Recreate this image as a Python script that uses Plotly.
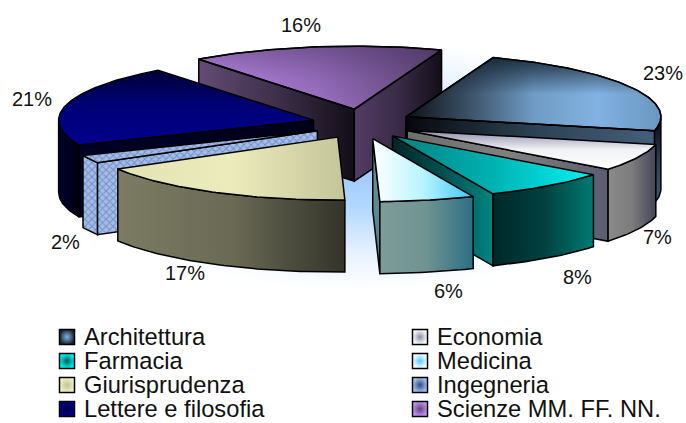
import math
import plotly.graph_objects as go

CATEGORIES = ["Architettura", "Economia", "Farmacia", "Medicina",
              "Giurisprudenza", "Ingegneria", "Lettere e filosofia", "Scienze MM. FF. NN."]
SHARES = [23, 7, 8, 6, 17, 2, 21, 16]

# geometry of the projected 3D pie (pixels on a 686x423 canvas)
CX, CY = 362, 124
RX, RY = 255, 63
EX, EY = 50, 15
DEPTH = 72
START = 20
DRAW_ORDER = [7, 6, 0, 5, 1, 4, 2, 3]

H, V = "horizontal", "vertical"
STYLES = [
    dict(top=(H, ["#0b1014", "#3c5267", "#6f9bc4", "#82b2e2", "#6a96c0"]),
         over=(V, ["rgba(20,35,50,0)", "rgba(20,35,50,0)", "rgba(20,35,50,0.9)"]),
         start=(H, ["#000", "#000"]), end=(H, ["#04080b", "#2c4052", "#445f7a"]),
         wall=(V, ["#3f5a75", "#2c4052", "#05080c"])),
    dict(top=(V, ["#ffffff", "#f2f2f6", "#8c8cab"]),
         start=(H, ["#000", "#000"]), end=(H, ["#6e6e6e", "#808080", "#5c5c72"]),
         wall=(H, ["#8a8a8a", "#7c7c7c", "#45455a"])),
    dict(top=(H, ["#007f7f", "#00b2b2", "#00f2f2"]),
         start=(H, ["#000", "#000"]), end=(H, ["#002626", "#00504f", "#008480"]),
         wall=(H, ["#002828", "#00403f", "#007a72"])),
    dict(top=(H, ["#ffffff", "#b8f4ff", "#3cc6ff"]),
         start=(H, ["#000", "#000"]), end=(V, ["#4f7f8a", "#6a9498"]),
         wall=(H, ["#7d9c9a", "#6f9391", "#2c6f84"])),
    dict(top=(H, ["#e2e2b2", "#ecebbb", "#c4c49a"]),
         start=(H, ["#000", "#000"]), end=(H, ["#000", "#000"]),
         wall=(H, ["#7c7c64", "#6a6a55", "#33332a"])),
    dict(top=(H, ["#8eaade", "#8eaade"]),
         pattern=dict(shape="x", bgcolor="#a4bce8", fgcolor="#3f5f9a", size=5, solidity=0.35),
         start=(H, ["#000", "#000"]), end=(H, ["#000", "#000"]),
         wall=(H, ["#000", "#000"])),
    dict(top=(V, ["#00008a", "#00007a", "#000038"]),
         start=(H, ["#000028", "#000018"]), end=(H, ["#000", "#000"]),
         wall=(H, ["#000030", "#000010"])),
    dict(top=(H, ["#c692f4", "#9c72c4", "#5e4676"]),
         over=(V, ["rgba(60,40,80,0)", "rgba(60,40,80,0.15)", "rgba(60,40,80,0.45)"]),
         start=(H, ["#624c74", "#3e2f4a", "#120e18"]), end=(H, ["#523c64", "#3a2b48", "#120e18"]),
         wall=(H, ["#000", "#000"])),
]

LABEL_XY = [(663, 73), (657, 237), (577, 277), (448, 291),
            (185, 273), (65, 242), (32, 99), (301, 25)]
LEGEND_COLORS = [("#1c2a38", "#82b2e2"), ("#ffffff", "#8c8cab"), ("#00f2f2", "#005a5a"), ("#ffffff", "#55ccff"),
                 ("#f0f0c8", "#c4c49a"), ("#a8c0ea", "#2c4c8c"), ("#00008a", "#000040"), ("#c692f4", "#5e4676")]
LEGEND_X = [67, 420]
LEGEND_Y = [337, 361, 385, 409]

fig = go.Figure()


def colorscale(stops):
    n = len(stops) - 1
    return [[i / n, c] for i, c in enumerate(stops)]


def face(name, xs, ys, grad, outlined=True, pattern=None):
    kw = {}
    if pattern:
        kw["fillpattern"] = pattern
    else:
        kw["fillgradient"] = dict(type=grad[0], colorscale=colorscale(grad[1]))
    fig.add_trace(go.Scatter(
        x=xs, y=ys, mode="lines", fill="toself", name=name, hoverinfo="skip", showlegend=False,
        line=dict(color="#000000" if outlined else "rgba(0,0,0,0)", width=1.5 if outlined else 0), **kw))


# soft halo behind the pie
halo = [math.radians(a) for a in range(0, 361, 3)]
fig.add_trace(go.Scatter(
    x=[360 + 300 * math.cos(a) for a in halo], y=[165 + 125 * math.sin(a) for a in halo],
    mode="lines", fill="toself", hoverinfo="skip", showlegend=False, line=dict(width=0, color="rgba(0,0,0,0)"),
    fillgradient=dict(type="radial", colorscale=[[0, "#9cc8ff"], [0.35, "#b4d8ff"], [0.7, "#e6f2ff"], [1, "#ffffff"]])))

# slice angles from the shares
total = sum(SHARES)
edges = [START]
for s in SHARES:
    edges.append(edges[-1] + 360 * s / total)


def px(a, r=1.0):
    t = math.radians(a)
    return CX + RX * r * math.sin(t), CY - RY * r * math.cos(t)


for i in DRAW_ORDER:
    a, b = edges[i], edges[i + 1]
    mid = math.radians((a + b) / 2)
    dx, dy = EX * math.sin(mid), -EY * math.cos(mid)
    apex = (CX + dx, CY + dy)
    n = max(2, int(b - a) + 1)
    angles = [a + (b - a) * k / (n - 1) for k in range(n)]
    arc = [(px(t)[0] + dx, px(t)[1] + dy) for t in angles]
    st = STYLES[i]
    nm = CATEGORIES[i]

    if math.sin(math.radians(a)) < 0:
        p = arc[0]
        face(nm, [apex[0], p[0], p[0], apex[0], apex[0]],
             [apex[1], p[1], p[1] + DEPTH, apex[1] + DEPTH, apex[1]], st["start"], pattern=st.get("pattern"))
    if math.sin(math.radians(b)) > 0:
        p = arc[-1]
        face(nm, [apex[0], p[0], p[0], apex[0], apex[0]],
             [apex[1], p[1], p[1] + DEPTH, apex[1] + DEPTH, apex[1]], st["end"], pattern=st.get("pattern"))
    # front part of the rim
    rim = [(t, q) for t, q in zip(angles, arc) if 90 <= (t % 360) <= 270]
    if len(rim) > 1:
        xs = [q[0] for _, q in rim]
        ys = [q[1] for _, q in rim]
        face(nm, xs + xs[::-1] + xs[:1], ys + [y + DEPTH for y in ys[::-1]] + ys[:1], st["wall"], pattern=st.get("pattern"))
    # top
    xs = [apex[0]] + [q[0] for q in arc] + [apex[0]]
    ys = [apex[1]] + [q[1] for q in arc] + [apex[1]]
    face(nm, xs, ys, st["top"], pattern=st.get("pattern"))
    if "over" in st:
        face(nm, xs, ys, st["over"], outlined=False)
        fig.add_trace(go.Scatter(x=xs, y=ys, mode="lines", hoverinfo="skip", showlegend=False,
                                 line=dict(color="#000000", width=1.5)))

FONT = dict(family="Liberation Sans, Arial, sans-serif", size=20, color="#111111")
LEGEND_FONT = dict(family="Liberation Sans, Arial, sans-serif", size=23.7, color="#111111")
notes = []
for v, (x, y) in zip(SHARES, LABEL_XY):
    notes.append(dict(x=x, y=y, text=f"{v}%", showarrow=False, font=FONT, xanchor="center", yanchor="middle"))

for i, name in enumerate(CATEGORIES):
    lx = LEGEND_X[i % 2]
    ly = LEGEND_Y[i // 2]
    c0, c1 = LEGEND_COLORS[i]
    fig.add_trace(go.Scatter(
        x=[lx], y=[ly], mode="markers", hoverinfo="skip", showlegend=False, name=name,
        marker=dict(symbol="square", size=15, color=c0, gradient=dict(type="radial", color=c1),
                    line=dict(color="#000000", width=1.5))))
    notes.append(dict(x=lx + 15, y=ly, text=name, showarrow=False, font=LEGEND_FONT, xanchor="left", yanchor="middle"))

fig.update_layout(
    width=686, height=423, margin=dict(l=0, r=0, t=0, b=0), autosize=False,
    paper_bgcolor="#ffffff", plot_bgcolor="#ffffff", showlegend=False, annotations=notes,
    xaxis=dict(range=[0, 686], visible=False, fixedrange=True),
    yaxis=dict(range=[423, 0], visible=False, fixedrange=True),
)
fig.write_html("out.html", config=dict(displayModeBar=False),
               post_script="document.body.style.margin='0';")
